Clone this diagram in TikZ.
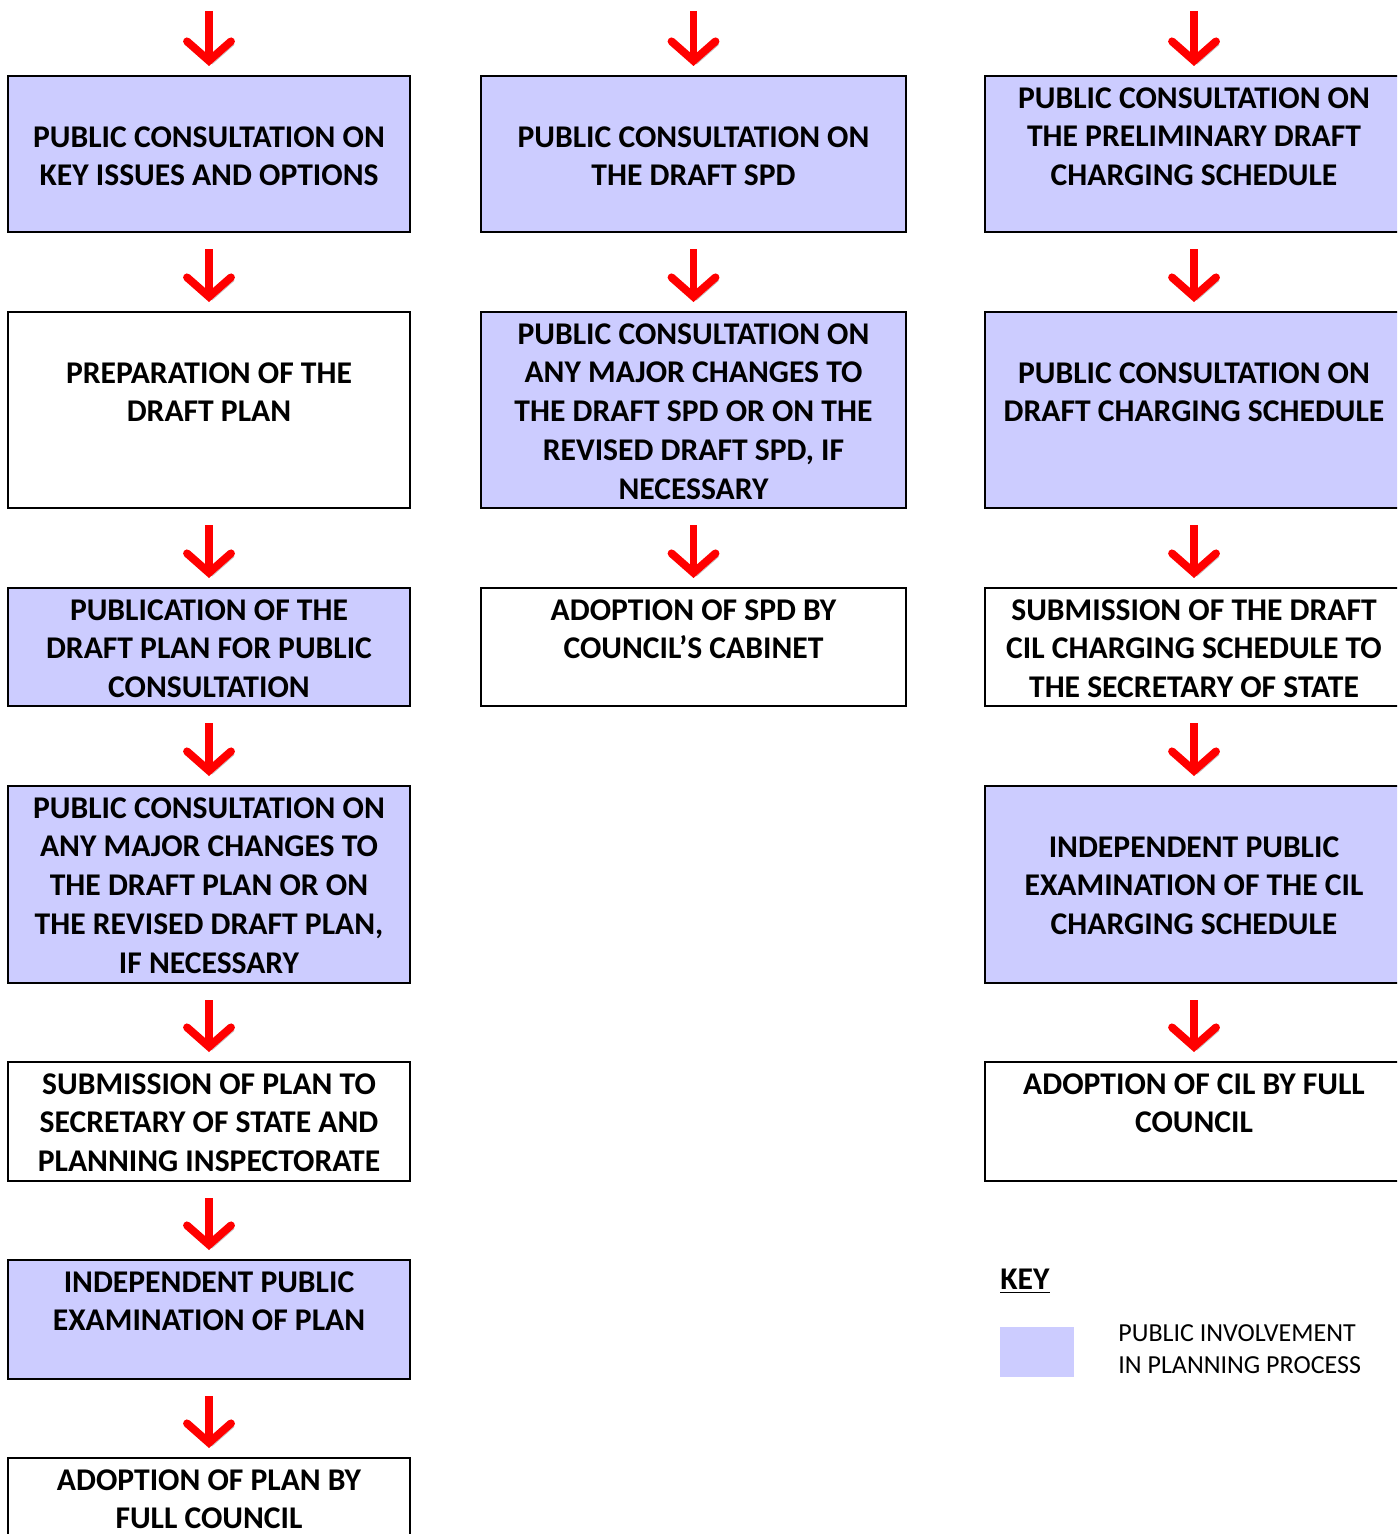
\documentclass[tikz,border=0pt]{standalone}
\usepackage{fontspec}
\setmainfont{Carlito}
\usetikzlibrary{arrows.meta}
\newcommand{\PX}{0.02cm}
\newcommand{\LINEPT}{4.5pt}
\newcommand{\BOXPT}{1.1pt}
\definecolor{mylilac}{RGB}{204,204,255}
\definecolor{myred}{RGB}{255,0,0}
\definecolor{myshade}{RGB}{185,185,185}
\tikzset{
	stagebox/.style 2 args={draw=black, line width=\BOXPT, anchor=north west, inner sep=0pt, outer sep=0pt,
		minimum width={#1*\PX}, minimum height={#2*\PX}},
	public/.style={fill=mylilac},
	stagetext/.style={anchor=north, inner sep=0pt, align=center, yshift={-11*\PX},
		font=\bfseries\fontsize{18}{22.1}\selectfont},
	lowtext/.style={stagetext, yshift={-39*\PX}},
	flow/.style={-{Straight Barb[length=11pt, width=25pt, line cap=round, line join=miter]}, color=myred, line width=\LINEPT,
		shorten <={17*\PX}, shorten >={10*\PX},
		preaction={draw=myshade, transform canvas={xshift=1.8pt, yshift=-1.8pt}}},
	topflow/.style={flow, shorten <=0pt}
}
\begin{document}
\begin{tikzpicture}[x=\PX, y=-\PX]
	\useasboundingbox (0,0) rectangle (1397,1534);
	\clip (0,0) rectangle (1397,1534);

	%% local plan
	\node[stagebox={402}{156}, public] (a1) at (8,76) {};
	\node[lowtext] (ta1) at (a1.north) {PUBLIC CONSULTATION ON\\KEY ISSUES AND OPTIONS};
	\node[stagebox={402}{196}] (a2) at (8,312) {};
	\node[lowtext] (ta2) at (a2.north) {PREPARATION OF THE\\DRAFT PLAN};
	\node[stagebox={402}{118}, public] (a3) at (8,588) {};
	\node[stagetext] (ta3) at (a3.north) {PUBLICATION OF THE\\DRAFT PLAN FOR PUBLIC\\CONSULTATION};
	\node[stagebox={402}{197}, public] (a4) at (8,786) {};
	\node[stagetext] (ta4) at (a4.north) {PUBLIC CONSULTATION ON\\ANY MAJOR CHANGES TO\\THE DRAFT PLAN OR ON\\THE REVISED DRAFT PLAN,\\IF NECESSARY};
	\node[stagebox={402}{119}] (a5) at (8,1062) {};
	\node[stagetext] (ta5) at (a5.north) {SUBMISSION OF PLAN TO\\SECRETARY OF STATE AND\\PLANNING INSPECTORATE};
	\node[stagebox={402}{119}, public] (a6) at (8,1260) {};
	\node[stagetext] (ta6) at (a6.north) {INDEPENDENT PUBLIC\\EXAMINATION OF PLAN};
	\node[stagebox={402}{119}] (a7) at (8,1458) {};
	\node[stagetext] (ta7) at (a7.north) {ADOPTION OF PLAN BY\\FULL COUNCIL};

	%% spd
	\node[stagebox={425}{156}, public] (b1) at (481,76) {};
	\node[lowtext] (tb1) at (b1.north) {PUBLIC CONSULTATION ON\\THE DRAFT SPD};
	\node[stagebox={425}{196}, public] (b2) at (481,312) {};
	\node[stagetext] (tb2) at (b2.north) {PUBLIC CONSULTATION ON\\ANY MAJOR CHANGES TO\\THE DRAFT SPD OR ON THE\\REVISED DRAFT SPD, IF\\NECESSARY};
	\node[stagebox={425}{118}] (b3) at (481,588) {};
	\node[stagetext] (tb3) at (b3.north) {ADOPTION OF SPD BY\\COUNCIL’S CABINET};

	%% cil
	\node[stagebox={418}{156}, public] (c1) at (985,76) {};
	\node[stagetext] (tc1) at (c1.north) {PUBLIC CONSULTATION ON\\THE PRELIMINARY DRAFT\\CHARGING SCHEDULE};
	\node[stagebox={418}{196}, public] (c2) at (985,312) {};
	\node[lowtext] (tc2) at (c2.north) {PUBLIC CONSULTATION ON\\DRAFT CHARGING SCHEDULE};
	\node[stagebox={418}{118}] (c3) at (985,588) {};
	\node[stagetext] (tc3) at (c3.north) {SUBMISSION OF THE DRAFT\\CIL CHARGING SCHEDULE TO\\THE SECRETARY OF STATE};
	\node[stagebox={418}{197}, public] (c4) at (985,786) {};
	\node[lowtext] (tc4) at (c4.north) {INDEPENDENT PUBLIC\\EXAMINATION OF THE CIL\\CHARGING SCHEDULE};
	\node[stagebox={418}{119}] (c5) at (985,1062) {};
	\node[stagetext] (tc5) at (c5.north) {ADOPTION OF CIL BY FULL\\COUNCIL};

	%% arrows
	\coordinate (sa) at (209,11);
	\coordinate (sb) at (693.5,11);
	\coordinate (sc) at (1194,11);
	\draw[topflow] (sa) -- (a1.north);
	\draw[topflow] (sb) -- (b1.north);
	\draw[topflow] (sc) -- (c1.north);
	\draw[flow] (a1.south) -- (a2.north);
	\draw[flow] (a2.south) -- (a3.north);
	\draw[flow] (a3.south) -- (a4.north);
	\draw[flow] (a4.south) -- (a5.north);
	\draw[flow] (a5.south) -- (a6.north);
	\draw[flow] (a6.south) -- (a7.north);
	\draw[flow] (b1.south) -- (b2.north);
	\draw[flow] (b2.south) -- (b3.north);
	\draw[flow] (c1.south) -- (c2.north);
	\draw[flow] (c2.south) -- (c3.north);
	\draw[flow] (c3.south) -- (c4.north);
	\draw[flow] (c4.south) -- (c5.north);

	%% key
	\node[anchor=west, inner sep=0pt, font=\bfseries\fontsize{18}{22.1}\selectfont] (key) at (1000,1281) {\underline{KEY}};
	\node[public, anchor=north west, inner sep=0pt, minimum width={74*\PX}, minimum height={50*\PX}] (swatch) at (1000,1327) {};
	\node[anchor=west, inner sep=0pt, align=left, font=\fontsize{14.8}{18.1}\selectfont] (keytext) at (1118,1349) {PUBLIC INVOLVEMENT\\IN PLANNING PROCESS};
\end{tikzpicture}
\end{document}
